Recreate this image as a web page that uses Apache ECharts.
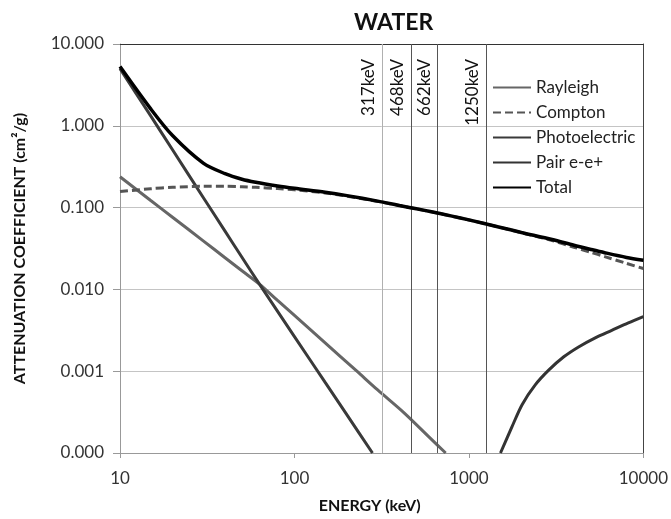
<!DOCTYPE html>
<html>
<head>
<meta charset="utf-8">
<script src="https://cdn.jsdelivr.net/npm/echarts@6/dist/echarts.min.js"></script>
<style>
html,body{margin:0;padding:0;background:#fff;}
#chart{width:671px;height:519px;}
</style>
</head>
<body>
<div id="chart"></div>
<script>
// ---- data ----
const rayleighE = [10, 15, 20, 30, 40, 50, 63, 80, 100, 150, 228, 300, 425, 600, 736];
const rayleighV = [0.238, 0.122, 0.0762, 0.0392, 0.0244, 0.0169, 0.0116, 0.00733, 0.0048, 0.00222, 0.001, 0.00059, 0.00031, 0.000152, 0.0001];

const comptonE = [10, 15, 20, 30, 40, 50, 60, 80, 100, 150, 200, 300, 400, 500, 600, 800, 1000, 1500, 2000, 3000, 4000, 5000, 6000, 8000, 10000];
const comptonV = [0.157, 0.170, 0.177, 0.182, 0.182, 0.180, 0.177, 0.171, 0.165, 0.151, 0.138, 0.119, 0.106, 0.0966, 0.0894, 0.0785, 0.0707, 0.0575, 0.0493, 0.0396, 0.0328, 0.0284, 0.0252, 0.0208, 0.0180];

const photoE = [10, 15, 20, 30, 40, 50, 63, 100, 150, 200, 280];
const photoV = [5.0, 1.32, 0.509, 0.133, 0.0516, 0.0247, 0.0116, 0.00265, 0.00073, 0.000293, 0.0001];

const pairE = [1517, 1767, 2018, 2400, 2866, 3500, 4252, 5300, 6590, 8200, 10000];
const pairV = [0.0001, 0.00021, 0.00039, 0.00068, 0.00103, 0.0015, 0.00198, 0.00256, 0.00316, 0.0039, 0.00466];

const totalE = [10, 15, 20, 30, 40, 50, 60, 80, 100, 150, 200, 300, 400, 500, 600, 800, 1000, 1500, 2000, 3000, 4000, 5000, 6000, 8000, 10000];
const totalV = [5.30, 1.61, 0.76, 0.35, 0.26, 0.222, 0.204, 0.184, 0.172, 0.154, 0.140, 0.120, 0.106, 0.0967, 0.0895, 0.0786, 0.0707, 0.0576, 0.0497, 0.0407, 0.0346, 0.0308, 0.0281, 0.0246, 0.0227];

const markerEnergies = [317, 468, 662, 1250];
const markerLabels = ['317keV', '468keV', '662keV', '1250keV'];

const seriesNames = ['Rayleigh', 'Compton', 'Photoelectric', 'Pair e-e+', 'Total'];
const xTicks = [10, 100, 1000, 10000];
const yTicks = [0.0001, 0.001, 0.01, 0.1, 1, 10];

// ---- chart ----
const FONT = 'Lato, "Open Sans", sans-serif';
const zip = (xs, ys) => xs.map((x, i) => [x, ys[i]]);

const chart = echarts.init(document.getElementById('chart'), null, {renderer: 'canvas'});

const option = {
  backgroundColor: '#fff',
  animation: false,
  title: {
    text: 'WATER',
    left: 349,
    top: 6,
    padding: [5, 5, 5, 5],
    textStyle: {fontFamily: FONT, fontWeight: 'bold', fontSize: 23, color: '#111'}
  },
  legend: {
    orient: 'vertical',
    left: 487,
    top: 74,
    itemWidth: 38,
    itemHeight: 14,
    itemGap: 8,
    data: seriesNames,
    itemStyle: {opacity: 0, borderWidth: 0},
    textStyle: {fontFamily: FONT, fontSize: 17, color: '#222'}
  },
  grid: {left: 120, right: 26, top: 44, bottom: 62},
  xAxis: [{
    type: 'log',
    logBase: 10,
    min: xTicks[0],
    max: xTicks[xTicks.length - 1],
    name: 'ENERGY (keV)',
    nameLocation: 'middle',
    nameGap: 45,
    nameTextStyle: {fontFamily: FONT, fontWeight: 'bold', fontSize: 16, color: '#111', padding: [0, 24, 0, 0]},
    axisLine: {show: true, lineStyle: {color: '#999', width: 1}},
    axisTick: {show: true, length: 5, lineStyle: {color: '#999'}},
    minorTick: {show: false},
    axisLabel: {fontFamily: FONT, fontSize: 17, color: '#333', margin: 17,
      formatter: v => String(Math.round(v))},
    splitLine: {show: false}
  }, {
    type: 'log', logBase: 10, position: 'top',
    min: xTicks[0], max: xTicks[xTicks.length - 1],
    axisLine: {show: true, lineStyle: {color: '#333', width: 1}},
    axisTick: {show: false}, axisLabel: {show: false}, splitLine: {show: false}
  }],
  yAxis: [{
    type: 'log',
    logBase: 10,
    min: yTicks[0],
    max: yTicks[yTicks.length - 1],
    name: 'ATTENUATION COEFFICIENT (cm²/g)',
    nameLocation: 'middle',
    nameRotate: 90,
    nameGap: 92,
    nameTextStyle: {fontFamily: FONT, fontWeight: 'bold', fontSize: 16, color: '#111'},
    axisLine: {show: true, lineStyle: {color: '#999', width: 1}},
    axisTick: {show: true, length: 7, lineStyle: {color: '#999'}},
    axisLabel: {fontFamily: FONT, fontSize: 17, color: '#333', margin: 16,
      formatter: v => Number(v).toFixed(3)},
    splitLine: {show: true, lineStyle: {color: '#c4c4c4', width: 1}}
  }, {
    type: 'log', logBase: 10, position: 'right',
    min: yTicks[0], max: yTicks[yTicks.length - 1],
    axisLine: {show: true, lineStyle: {color: '#444', width: 1}},
    axisTick: {show: false}, axisLabel: {show: false}, splitLine: {show: false}
  }],
  series: [
    {
      name: seriesNames[0], type: 'line', data: zip(rayleighE, rayleighV),
      symbol: 'none', smooth: 0.3, clip: true, z: 3,
      lineStyle: {color: '#666666', width: 3}, itemStyle: {color: '#666666'}
    },
    {
      name: seriesNames[1], type: 'line', data: zip(comptonE, comptonV),
      symbol: 'none', smooth: 0.3, clip: true, z: 4,
      lineStyle: {color: '#555555', width: 3, type: [8, 4]}, itemStyle: {color: '#555555'}
    },
    {
      name: seriesNames[2], type: 'line', data: zip(photoE, photoV),
      symbol: 'none', smooth: 0.2, clip: true, z: 3,
      lineStyle: {color: '#3a3a3a', width: 3}, itemStyle: {color: '#3a3a3a'}
    },
    {
      name: seriesNames[3], type: 'line', data: zip(pairE, pairV),
      symbol: 'none', smooth: 0.3, clip: true, z: 3,
      lineStyle: {color: '#333333', width: 3}, itemStyle: {color: '#333333'}
    },
    {
      name: seriesNames[4], type: 'line', data: zip(totalE, totalV),
      symbol: 'none', smooth: 0.3, clip: true, z: 5,
      lineStyle: {color: '#000000', width: 3.5}, itemStyle: {color: '#000000'},
      markLine: {
        silent: true,
        symbol: ['none', 'none'],
        animation: false,
        label: {
          show: true,
          position: 'insideEndTop',
          fontFamily: FONT, fontSize: 17, color: '#111',
          distance: 5,
          padding: [0, 10, 0, 0]
        },
        data: markerEnergies.map((e, i) => ({
          xAxis: e,
          label: {formatter: markerLabels[i]},
          lineStyle: {color: i === 0 ? '#b0b0b0' : '#555555', width: 1, type: 'solid'}
        }))
      }
    }
  ]
};

chart.setOption(option);
</script>
</body>
</html>
